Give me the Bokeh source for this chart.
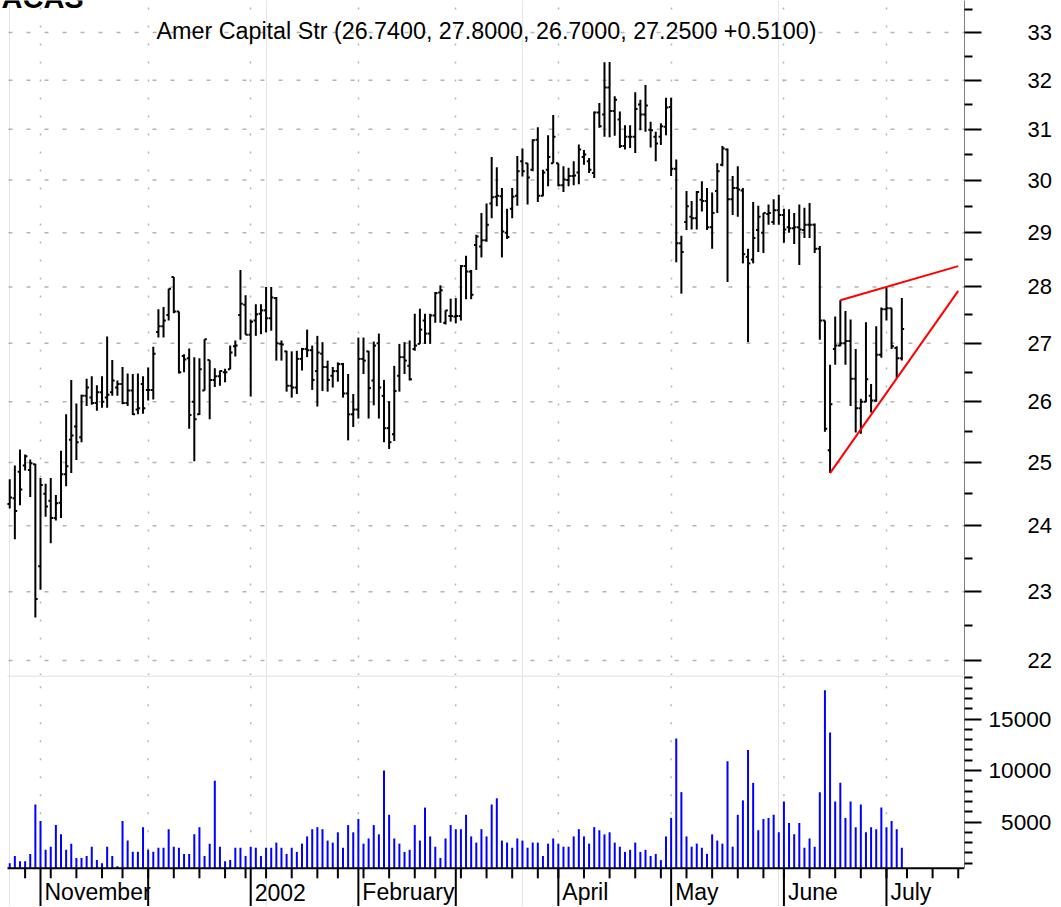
import math
import pandas as pd
from bokeh.plotting import figure
from bokeh.layouts import column
from bokeh.models import (Range1d, FixedTicker, Grid, ColumnDataSource,
                          PrintfTickFormatter, Label)
from bokeh.core.properties import value
from bokeh.embed import file_html
from bokeh.resources import INLINE

# ---------------- data ----------------
ticker_symbol = "ACAS"
first_day = "2001-10-24"
last_day = "2002-07-05"
axis_end_day = "2002-07-26"
market_holidays = ["2001-11-22", "2001-12-25", "2002-01-01", "2002-01-21",
                   "2002-02-18", "2002-03-29", "2002-05-27", "2002-07-04"]

opens = [24.34, 24.43, 24.85, 24.95, 24.88, 24.97, 23.38, 24.50, 24.39, 24.12,
         24.36, 24.81, 25.37, 25.59, 25.41, 26.10, 26.07, 25.98, 26.16, 26.07,
         26.16, 26.24, 26.30, 25.98, 26.19, 25.87, 26.30, 26.20, 26.20, 27.20,
         27.30, 27.50, 28.18, 27.56, 26.78, 26.74, 26.00, 25.79, 26.19, 26.71,
         26.37, 26.43, 26.50, 26.55, 26.95, 27.50, 27.68, 27.15, 27.40, 27.52,
         27.58, 27.44, 27.80, 26.99, 26.86, 26.27, 26.24, 26.73, 26.90, 26.88,
         26.52, 26.82, 26.59, 26.44, 26.52, 26.64, 26.14, 25.79, 25.87, 26.73,
         26.86, 26.36, 27.00, 26.10, 25.56, 25.46, 26.44, 26.76, 26.61, 26.90,
         26.99, 27.40, 27.17, 27.49, 27.90, 27.36, 27.48, 27.47, 27.48, 28.38,
         28.28, 28.77, 28.74, 28.86, 29.55, 29.68, 29.69, 29.00, 29.45, 29.70,
         30.37, 30.33, 30.20, 30.79, 29.70, 30.20, 30.33, 30.33, 29.90, 30.00,
         30.08, 30.15, 30.45, 30.37, 30.14, 31.34, 31.30, 31.85, 31.37, 31.20,
         30.67, 30.85, 30.85, 31.50, 31.30, 30.99, 30.85, 30.85, 31.05, 31.45,
         30.22, 28.80, 29.20, 29.30, 29.27, 29.62, 29.60, 29.10, 29.79, 30.30,
         30.60, 29.63, 29.85, 29.80, 28.55, 28.50, 29.05, 29.00, 29.35, 29.20,
         29.42, 29.33, 29.10, 29.08, 29.10, 29.05, 29.15, 29.15, 28.70, 27.40,
         25.20, 26.90, 26.96, 27.00, 27.04, 26.39, 25.89, 26.00, 26.10, 26.02,
         26.80, 27.60, 27.62, 26.92, 26.74]
highs = [24.73, 24.95, 25.21, 25.13, 25.05, 24.98, 24.75, 24.66, 24.75, 24.48,
         25.19, 25.79, 26.37, 25.97, 26.12, 26.39, 26.43, 26.28, 26.43, 27.12,
         26.71, 26.36, 26.59, 26.48, 26.47, 26.48, 26.43, 26.58, 26.94, 27.60,
         27.64, 27.97, 28.18, 27.56, 26.81, 26.91, 26.76, 26.74, 27.07, 26.71,
         26.57, 26.53, 26.56, 26.96, 27.05, 28.31, 27.85, 27.42, 27.69, 27.69,
         28.00, 28.00, 27.82, 27.05, 26.87, 26.86, 26.87, 26.92, 27.24, 26.96,
         27.13, 27.02, 26.70, 26.59, 26.67, 26.66, 26.47, 26.13, 27.10, 27.10,
         26.87, 27.03, 27.17, 26.37, 26.01, 26.61, 26.99, 27.02, 27.05, 27.52,
         27.61, 27.52, 27.52, 27.91, 28.03, 27.58, 27.79, 27.80, 28.40, 28.57,
         28.31, 28.96, 29.37, 29.55, 30.45, 30.25, 29.85, 29.45, 29.85, 30.47,
         30.62, 30.33, 30.80, 31.04, 30.20, 30.88, 31.29, 30.33, 30.27, 30.24,
         30.37, 30.70, 30.59, 30.43, 31.36, 31.53, 32.37, 32.38, 31.67, 31.36,
         31.08, 31.08, 31.75, 31.60, 31.90, 31.15, 30.95, 31.12, 31.64, 31.64,
         30.40, 28.94, 29.79, 29.60, 29.79, 29.98, 29.85, 29.76, 30.33, 30.67,
         30.62, 30.08, 30.27, 29.85, 28.70, 29.58, 29.51, 29.37, 29.53, 29.63,
         29.72, 29.45, 29.44, 29.37, 29.53, 29.47, 29.56, 29.17, 28.75, 27.40,
         26.63, 27.47, 27.76, 27.57, 27.42, 26.90, 26.05, 27.37, 26.30, 27.30,
         27.63, 28.00, 27.62, 26.95, 27.80]
lows = [24.27, 23.79, 24.32, 24.87, 24.45, 22.62, 23.03, 24.14, 23.73, 24.08,
        24.12, 24.62, 24.83, 25.04, 25.33, 25.93, 25.95, 25.85, 25.90, 25.90,
        26.10, 26.10, 25.96, 25.93, 25.78, 25.79, 25.80, 26.02, 26.04, 27.10,
        27.10, 27.40, 27.53, 26.48, 26.50, 25.55, 25.02, 25.78, 26.19, 25.71,
        26.25, 26.27, 26.33, 26.55, 26.77, 27.06, 27.15, 26.09, 27.13, 27.16,
        27.19, 27.22, 26.70, 26.70, 26.17, 26.07, 26.13, 26.53, 26.76, 26.20,
        25.92, 26.18, 26.17, 26.24, 26.34, 26.07, 25.36, 25.58, 25.72, 26.47,
        25.72, 25.94, 25.72, 25.33, 25.22, 25.35, 26.17, 26.47, 26.36, 26.87,
        26.99, 26.99, 26.99, 27.36, 27.36, 27.33, 27.38, 27.35, 27.40, 27.78,
        27.78, 28.31, 28.54, 28.83, 29.27, 29.50, 28.54, 28.88, 29.27, 29.51,
        30.07, 29.53, 30.17, 29.58, 29.69, 29.88, 30.33, 29.88, 29.77, 29.88,
        29.90, 29.92, 30.30, 30.14, 30.04, 31.03, 30.85, 30.84, 30.87, 30.63,
        30.60, 30.63, 30.53, 30.98, 30.95, 30.64, 30.37, 30.69, 30.88, 30.08,
        28.45, 27.88, 29.05, 29.06, 29.06, 29.40, 29.05, 28.70, 29.37, 30.27,
        28.09, 29.33, 29.30, 28.43, 27.02, 28.43, 28.64, 28.62, 29.15, 29.15,
        29.15, 28.81, 29.00, 28.79, 28.40, 28.90, 28.90, 28.62, 27.06, 25.50,
        24.83, 26.63, 26.95, 26.63, 25.93, 25.49, 25.47, 25.99, 25.82, 26.00,
        26.75, 27.40, 26.90, 26.40, 26.70]
closes = [24.44, 24.23, 24.57, 25.10, 24.99, 22.89, 24.64, 24.30, 24.12, 24.35,
          24.81, 24.94, 25.44, 25.33, 26.10, 26.24, 25.98, 26.16, 26.00, 26.12,
          26.36, 26.30, 25.98, 26.19, 25.79, 25.89, 25.89, 26.20, 26.82, 27.30,
          27.40, 27.97, 27.56, 26.50, 26.72, 25.78, 25.71, 26.55, 27.07, 26.37,
          26.43, 26.52, 26.50, 26.84, 26.96, 27.70, 27.15, 27.38, 27.51, 27.58,
          27.44, 27.81, 27.00, 26.98, 26.27, 26.24, 26.73, 26.90, 26.88, 26.37,
          26.84, 26.59, 26.37, 26.52, 26.64, 26.14, 25.79, 25.87, 26.73, 26.70,
          26.23, 26.96, 26.24, 25.56, 25.33, 26.18, 26.76, 26.70, 26.38, 26.96,
          27.24, 27.17, 27.49, 27.89, 27.94, 27.58, 27.48, 27.48, 28.38, 28.28,
          27.86, 28.93, 28.86, 29.15, 29.67, 29.70, 29.02, 28.92, 29.68, 30.17,
          30.17, 30.05, 30.78, 29.70, 30.15, 30.45, 30.85, 29.90, 30.01, 30.08,
          30.09, 30.60, 30.50, 30.20, 31.34, 31.06, 31.85, 31.37, 31.60, 30.67,
          30.85, 30.85, 31.41, 31.30, 31.48, 30.98, 30.72, 31.06, 31.44, 30.22,
          28.80, 28.64, 29.50, 29.27, 29.77, 29.60, 29.10, 29.37, 30.17, 30.62,
          29.63, 29.85, 29.82, 28.60, 28.43, 28.90, 29.30, 29.37, 29.37, 29.42,
          29.33, 29.06, 29.08, 29.10, 29.06, 29.15, 29.15, 28.70, 27.40, 25.55,
          25.96, 26.96, 27.00, 27.04, 26.39, 25.89, 26.00, 26.38, 26.02, 26.80,
          27.60, 27.62, 26.95, 26.74, 27.25]
volumes = [1000, 1700, 1200, 1200, 1900, 6700, 5100, 2300, 2600, 4700,
           3800, 2300, 2900, 1500, 1500, 1700, 2600, 1300, 1000, 2600,
           1700, 700, 5100, 3200, 2100, 2100, 4500, 2300, 2100, 2500,
           2500, 4300, 2600, 2500, 1900, 1900, 3800, 4500, 1700, 2900,
           9000, 2600, 1200, 1300, 2500, 2500, 1700, 2600, 2500, 1700,
           2500, 2500, 3000, 2500, 1900, 2500, 2100, 2900, 3600, 4300,
           4500, 4300, 3200, 3000, 4000, 2500, 4700, 4000, 5300, 2900,
           3400, 4700, 3800, 10000, 5700, 3400, 2900, 2100, 2300, 4700,
           3200, 6400, 3600, 2600, 1500, 3400, 4700, 4300, 4300, 5700,
           3600, 3000, 4300, 3600, 6700, 7300, 3200, 3000, 2500, 3400,
           3200, 2500, 3000, 3000, 1700, 2900, 3400, 2900, 2600, 2600,
           3600, 4300, 3600, 2900, 4500, 4200, 3800, 4000, 3000, 2600,
           2100, 2300, 3000, 2100, 2300, 1700, 1900, 1300, 3600, 5400,
           13100, 7900, 3600, 2600, 2900, 2500, 1900, 3800, 3200, 2900,
           10900, 2600, 5700, 7100, 12000, 8800, 4200, 5300, 5400, 5700,
           4000, 7000, 4900, 3800, 4900, 2500, 3400, 2600, 7900, 17800,
           13700, 7000, 8800, 5400, 7000, 4500, 6700, 4000, 4500, 4300,
           6400, 4500, 5100, 4300, 2500]

title_text = "Amer Capital Str (26.7400, 27.8000, 26.7000, 27.2500 +0.5100)"
price_ticks = [22, 23, 24, 25, 26, 27, 28, 29, 30, 31, 32, 33]
price_minor_ticks = [22.5, 23.5, 24.5, 25.5, 26.5, 27.5, 28.5, 29.5, 30.5, 31.5, 32.5, 33.5]
volume_ticks = [5000, 10000, 15000]
volume_minor_ticks = [1000, 2000, 3000, 4000, 6000, 7000, 8000, 9000, 11000, 12000,
                      13000, 14000, 16000, 17000, 18000, 19000]
volume_axis_start = 500
month_names = {"2001-11": "November", "2001-12": "", "2002-01": "2002",
               "2002-02": "February", "2002-03": "", "2002-04": "April",
               "2002-05": "May", "2002-06": "June", "2002-07": "July"}
upper_trend_dates = ["2002-06-18", "2002-07-22"]
upper_trend_prices = [27.76, 28.38]
lower_trend_dates = ["2002-06-14", "2002-07-22"]
lower_trend_prices = [24.83, 27.93]

# ---------------- dates / positions ----------------
trade_days = [d for d in pd.bdate_range(first_day, last_day)
              if d.strftime("%Y-%m-%d") not in market_holidays]
future_days = list(pd.bdate_range(pd.Timestamp(last_day) + pd.Timedelta(days=1), axis_end_day))
all_days = trade_days + future_days
day_index = {d.strftime("%Y-%m-%d"): i for i, d in enumerate(all_days)}
n = len(trade_days)
idx = list(range(n))

week_starts = [i for i in range(1, len(all_days))
               if all_days[i].isocalendar()[1] != all_days[i - 1].isocalendar()[1]]
month_starts = [i for i in range(1, len(all_days)) if all_days[i].month != all_days[i - 1].month]

FONT = "Liberation Sans"
GRID = "#b4b4b4"
PAD_LEFT = 8           # blank strip at the left of the chart area
PLOT_W = 956           # drawn chart area width
FRAME_W = PLOT_W + PAD_LEFT
PRICE_H = 675
VOL_H = 231
RIGHT_BORDER = 96

chart_start, chart_end = -0.24, 186.22
px_per_day = PLOT_W / (chart_end - chart_start)
x_range = Range1d(chart_start - PAD_LEFT / px_per_day, chart_end)

price_top, price_bottom = 33.689, 21.788
px_per_log = PRICE_H / math.log(price_top / price_bottom)


def price_at(py):
    """price value that sits py pixels below the top of the price panel"""
    return math.exp(math.log(price_top) - py / px_per_log)


# ---------------- price panel ----------------
p = figure(output_backend="svg", toolbar_location=None, y_axis_type="log",
           y_axis_location="right", x_axis_location=None,
           frame_width=FRAME_W, frame_height=PRICE_H,
           x_range=x_range, y_range=Range1d(price_bottom, price_top),
           min_border_left=0, min_border_right=RIGHT_BORDER,
           min_border_top=0, min_border_bottom=0)
p.outline_line_color = None
p.background_fill_color = "white"
p.border_fill_color = "white"

ya = p.yaxis[0]
ya.ticker = FixedTicker(ticks=price_ticks, minor_ticks=price_minor_ticks)
ya.formatter = PrintfTickFormatter(format="%d")
ya.axis_line_color = "#808080"
ya.major_tick_in = 0
ya.major_tick_out = 17
ya.minor_tick_in = 0
ya.minor_tick_out = 8
ya.major_tick_line_color = "black"
ya.minor_tick_line_color = "black"
ya.major_tick_line_width = 2
ya.minor_tick_line_width = 2
ya.major_label_standoff = 46
ya.major_label_text_font = FONT
ya.major_label_text_font_size = "22px"
ya.major_label_text_color = "black"

p.ygrid.grid_line_color = None
# horizontal dashed price grid
p.segment(x0=[chart_start] * len(price_ticks), y0=price_ticks,
          x1=[chart_end] * len(price_ticks), y1=price_ticks,
          line_color=GRID, line_dash="4 14", line_width=1.5)
vgrid = Grid(dimension=0, ticker=FixedTicker(ticks=month_starts),
             grid_line_color=GRID, grid_line_dash="2 16", grid_line_width=1.5)
p.add_layout(vgrid)

src = ColumnDataSource(dict(
    x=idx, xl=[i - 0.45 for i in idx], xr=[i + 0.45 for i in idx],
    o=opens, h=highs, l=lows, c=closes))
p.segment(x0="x", y0="l", x1="x", y1="h", source=src, line_color="black", line_width=2)
p.segment(x0="xl", y0="o", x1="x", y1="o", source=src, line_color="black", line_width=2)
p.segment(x0="x", y0="c", x1="xr", y1="c", source=src, line_color="black", line_width=2)

p.line(x=[day_index[d] for d in upper_trend_dates], y=upper_trend_prices,
       line_color="#ff0000", line_width=2)
p.line(x=[day_index[d] for d in lower_trend_dates], y=lower_trend_prices,
       line_color="#ff0000", line_width=2)

p.text(x=[(chart_start + chart_end) / 2], y=[price_at(30.5)], text=[title_text],
       text_align="center", text_baseline="alphabetic",
       text_font=value(FONT), text_font_size="23.3px", text_color="black")

# symbol caption, mostly above the visible area like in the original
p.add_layout(Label(x=x_range.start + 1 / px_per_day, y=price_at(-3.0), text=ticker_symbol,
                   text_align="left", text_baseline="alphabetic",
                   text_font=FONT, text_font_style="bold", text_font_size="29px",
                   text_color="black"))

# ---------------- volume panel ----------------
v_top = 19224
v_bottom = -3204
vpp = (v_top - v_bottom) / VOL_H

v = figure(output_backend="svg", toolbar_location=None,
           y_axis_location="right", x_axis_location=None,
           frame_width=FRAME_W, frame_height=VOL_H,
           x_range=x_range, y_range=Range1d(v_bottom, v_top),
           min_border_left=0, min_border_right=RIGHT_BORDER,
           min_border_top=0, min_border_bottom=0)
v.outline_line_color = None
v.background_fill_color = "white"
v.border_fill_color = "white"
v.ygrid.grid_line_color = None

va = v.yaxis[0]
va.ticker = FixedTicker(ticks=volume_ticks, minor_ticks=volume_minor_ticks)
va.bounds = (volume_axis_start, v_top)
va.major_label_overrides = {5000: "\u20075000", 10000: "10000", 15000: "15000"}
va.axis_line_color = "#808080"
va.major_tick_in = 0
va.major_tick_out = 17
va.minor_tick_in = 0
va.minor_tick_out = 8
va.major_tick_line_color = "black"
va.minor_tick_line_color = "black"
va.major_tick_line_width = 2
va.minor_tick_line_width = 2
va.major_label_standoff = 7
va.major_label_text_font = FONT
va.major_label_text_font_size = "22.6px"
va.major_label_text_color = "black"

# vertical grid in the volume panel
v.segment(x0=month_starts, y0=[volume_axis_start] * len(month_starts),
          x1=month_starts, y1=[v_top] * len(month_starts),
          line_color=GRID, line_dash="2 16", line_width=1.5)

# separator line between panels
v.segment(x0=[chart_start - 1 / px_per_day], y0=[v_top - 0.5 * vpp],
          x1=[chart_end], y1=[v_top - 0.5 * vpp],
          line_color="#d4d4d4", line_width=1)

# volume bars
vsrc = ColumnDataSource(dict(x=idx, v=volumes, b=[volume_axis_start] * n))
v.segment(x0="x", y0="b", x1="x", y1="v", source=vsrc, line_color="#0000ff", line_width=2)

# date axis (drawn inside the panel)
v.segment(x0=[chart_start - 1 / px_per_day], y0=[volume_axis_start],
          x1=[chart_end], y1=[volume_axis_start], line_color="black", line_width=2)
v.segment(x0=week_starts, y0=[volume_axis_start] * len(week_starts),
          x1=week_starts, y1=[volume_axis_start - 10 * vpp] * len(week_starts),
          line_color="black", line_width=2)
v.segment(x0=month_starts, y0=[volume_axis_start] * len(month_starts),
          x1=month_starts, y1=[v_bottom] * len(month_starts),
          line_color="black", line_width=2)

lab_x, lab_t = [], []
for i in month_starts:
    key = all_days[i].strftime("%Y-%m")
    name = month_names.get(key, "")
    if name:
        lab_x.append(i)
        lab_t.append(name)
v.text(x=lab_x, y=[volume_axis_start - 24 * vpp] * len(lab_x), text=lab_t,
       x_offset=4, text_align="left", text_baseline="alphabetic",
       text_font=value(FONT), text_font_size="23px", text_color="black")

layout = column(p, v, spacing=0)
open("out.html", "w").write(file_html(layout, INLINE))
